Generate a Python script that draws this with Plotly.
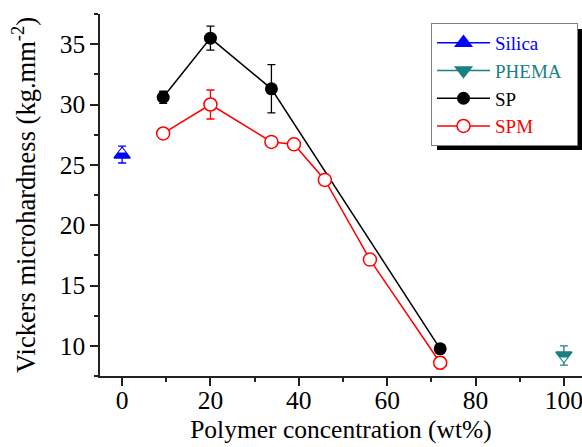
import plotly.graph_objects as go

# Vickers microhardness vs polymer concentration
silica_x = [0]
silica_y = [25.85]
silica_err = [0.7]

phema_x = [100]
phema_y = [9.2]
phema_err = [0.8]

sp_x = [9.3, 20, 33.8, 72]
sp_y = [30.6, 35.5, 31.3, 9.75]
sp_err = [0.5, 1.0, 2.0, 0.3]

spm_x = [9.3, 20, 33.8, 38.9, 45.9, 56.1, 72]
spm_y = [27.6, 30.0, 26.9, 26.7, 23.75, 17.15, 8.6]
spm_err = [0.3, 1.2, 0.3, 0.3, 0.45, 0.4, 0.5]

BLUE = "#0000FF"
TEAL = "#1A8080"
RED = "#FF0000"
FONT = "Liberation Serif"
NBSP = "\u00a0"

fig = go.Figure()

# half-filled triangle: filled triangle with a white apex-side half laid over it
def half_tri(x, y, err, color, name, up=True):
    sym = "triangle-up" if up else "triangle-down"
    size = 14
    fig.add_trace(go.Scatter(
        x=x, y=y, name=name, mode="lines+markers",
        line=dict(color=color, width=1.5),
        marker=dict(symbol=sym, size=size, color=color,
                    line=dict(color=color, width=1.5)),
        error_y=dict(type="data", array=err, color=color, thickness=1.3, width=4),
    ))
    px_per_unit = 12.05
    shift = (size / 4) / px_per_unit
    yy = [v + shift if up else v - shift for v in y]
    fig.add_trace(go.Scatter(
        x=x, y=yy, mode="markers", showlegend=False, hoverinfo="skip",
        marker=dict(symbol=sym, size=size / 2 - 0.8, color="white", line=dict(width=0)),
    ))

half_tri(silica_x, silica_y, silica_err, BLUE,
         "<span style='color:%s'>Silica</span>" % BLUE, up=True)
half_tri(phema_x, phema_y, phema_err, TEAL,
         "<span style='color:%s'>PHEMA%s</span>" % (TEAL, NBSP * 2), up=False)

fig.add_trace(go.Scatter(
    x=sp_x, y=sp_y, name="SP", mode="lines+markers",
    line=dict(color="black", width=1.5),
    marker=dict(symbol="circle", size=13, color="black"),
    error_y=dict(type="data", array=sp_err, color="black", thickness=1.3, width=4),
))

fig.add_trace(go.Scatter(
    x=spm_x, y=spm_y, name="<span style='color:%s'>SPM</span>" % RED, mode="lines+markers",
    line=dict(color=RED, width=1.5),
    marker=dict(symbol="circle", size=13, color="white", line=dict(color=RED, width=1.5)),
    error_y=dict(type="data", array=spm_err, color=RED, thickness=1.3, width=4),
))

# legend drop shadow
fig.add_shape(type="rect", xref="paper", yref="paper",
              x0=(437 - 100) / 482, x1=(590 - 100) / 482,
              y0=(376 - 150) / 362, y1=(376 - 29) / 362,
              fillcolor="black", line=dict(width=0), layer="below")

axis_common = dict(
    showline=True, linecolor="#222", linewidth=1.5, mirror=False,
    ticks="outside", ticklen=8, tickwidth=1.5, tickcolor="#222",
    showgrid=False, zeroline=False,
    tickfont=dict(family=FONT, size=25.5, color="black"),
    ticklabeloverflow="allow",
)

fig.update_xaxes(
    range=[-5, 104.1], tick0=0, dtick=20,
    minor=dict(ticks="outside", ticklen=4, tickwidth=1.5, tickcolor="#222", dtick=10),
    title=dict(text="Polymer concentration (wt%)", font=dict(family=FONT, size=25.5, color="black"),
               standoff=6),
    ticklabelstandoff=-7,
    **axis_common,
)
fig.update_yaxes(
    range=[7.5, 37.5], tick0=0, dtick=5,
    minor=dict(ticks="outside", ticklen=4, tickwidth=1.5, tickcolor="#222", dtick=2.5, tick0=0),
    title=dict(text=NBSP * 2 + "\u2009" + "Vickers microhardness (kg.mm<sup>-2</sup>)",
               font=dict(family=FONT, size=26.5, color="black"), standoff=16),
    **axis_common,
)

fig.update_layout(
    width=582, height=447,
    margin=dict(l=100, r=0, t=14, b=71, autoexpand=False),
    paper_bgcolor="white", plot_bgcolor="white",
    showlegend=True,
    legend=dict(
        x=(431 - 100) / 482, y=(376 - 23) / 362, xanchor="left", yanchor="top",
        bgcolor="white", bordercolor="#808080", borderwidth=1,
        font=dict(family=FONT, size=19, color="black"),
        itemwidth=53, tracegroupgap=0,
    ),
)

fig.write_html("out.html")
